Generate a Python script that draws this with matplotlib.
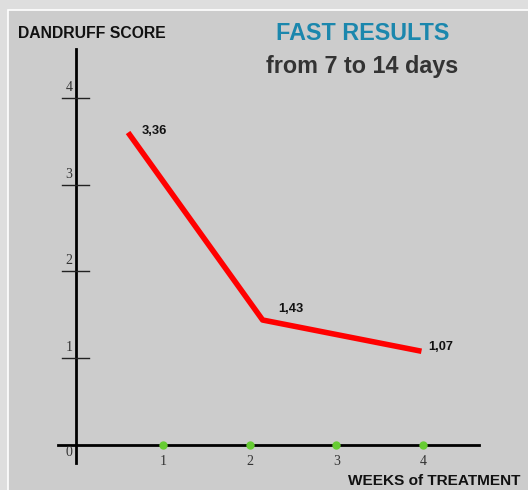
import matplotlib.pyplot as plt
from matplotlib.patches import Rectangle
from matplotlib import font_manager

# Datos
weeks = [0.6, 2.15, 3.98]
scores = [3.6, 1.44, 1.08]
value_labels = ['3,36', '1,43', '1,07']
x_ticks = [1, 2, 3, 4]
y_ticks = [1, 2, 3, 4]

names = {f.name for f in font_manager.fontManager.ttflist}
narrow = 'Liberation Sans Narrow' in names
sans = 'Liberation Sans Narrow' if narrow else 'Liberation Sans'
k = 1.0 if narrow else 0.84  # compensar ancho si no hay fuente condensada

W, H = 528, 490
PX = 86.8        # pixeles por unidad
X0, Y0 = 76, 445  # origen en pixeles

fig = plt.figure(figsize=(W / 100, H / 100), dpi=100)
fig.patch.set_facecolor('#dedede')
fig.add_artist(Rectangle((8 / W, -0.01), 1.0, (H - 10) / H + 0.01, transform=fig.transFigure,
                         facecolor='#cccccc', edgecolor='white', lw=1.2, zorder=-1))

ax = fig.add_axes([0, 0, 1, 1])
ax.set_xlim(-X0 / PX, (W - X0) / PX)
ax.set_ylim((Y0 - H) / PX, Y0 / PX)
ax.axis('off')

# Ejes
ax.plot([-0.207, 4.64], [0, 0], color='black', lw=2.0, zorder=2)
ax.plot([0, 0], [-0.207, 4.56], color='black', lw=2.0, zorder=2)

for t in y_ticks:
    ax.plot([-0.161, 0.15], [t, t], color='#222222', lw=1.0, zorder=2)
    ax.text(-0.08, t + 0.12, str(t), ha='center', va='center', fontsize=10,
            family='Liberation Serif', color='#333333')
ax.text(-0.08, -0.09, '0', ha='center', va='center', fontsize=10,
        family='Liberation Serif', color='#333333')

ax.plot(x_ticks, [0] * len(x_ticks), 'o', color='#66cc33', ms=5, zorder=3)
for t in x_ticks:
    ax.text(t, -0.195, str(t), ha='center', va='center', fontsize=10,
            family='Liberation Serif', color='#333333')

# Serie
ax.plot(weeks, scores, color='#ff0000', lw=4, solid_capstyle='butt',
        solid_joinstyle='round', zorder=4)
offsets = [(10, 1), (11, 8), (5, 3)]
for xv, yv, lab, off in zip(weeks, scores, value_labels, offsets):
    ax.annotate(lab, (xv, yv), xytext=off, textcoords='offset points',
                ha='left', va='center', fontsize=11 * k, fontweight='bold',
                family=sans, color='#111111')

# Textos
fig.text(18 / W, 1 - 33 / H, 'DANDRUFF SCORE', ha='left', va='center',
         fontsize=13.5 * k, fontweight='bold', family=sans, color='#111111')
fig.text(362.5 / W, 1 - 33 / H, 'FAST RESULTS', ha='center', va='center',
         fontsize=20 * k, fontweight='bold', family=sans, color='#1b87ad')
fig.text(362.5 / W, 1 - 67 / H, 'from 7 to 14 days', ha='center', va='center',
         fontsize=20 * k, fontweight='bold', family=sans, color='#333333')
fig.text(348 / W, 1 - 481 / H, 'WEEKS of TREATMENT', ha='left', va='center',
         fontsize=13.2 * k, fontweight='bold', family=sans, color='#111111')

fig.savefig('out.png', dpi=100, facecolor=fig.get_facecolor())
